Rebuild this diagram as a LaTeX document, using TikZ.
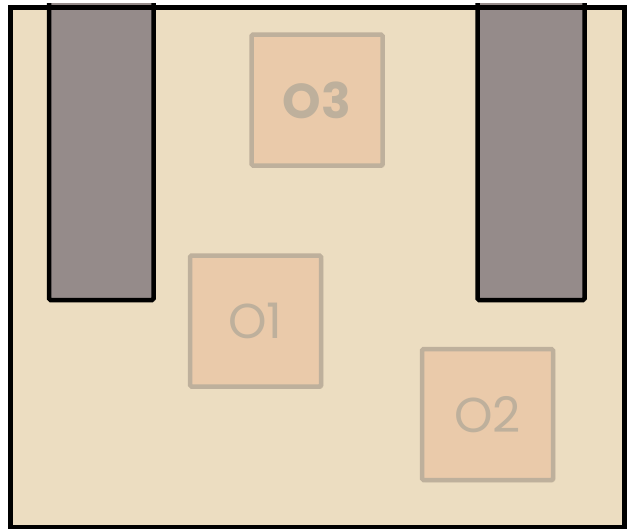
\documentclass[tikz,border=0pt]{standalone}
\usepackage{fontspec}
\setmainfont{Poppins}
\usetikzlibrary{shadows}
\definecolor{bgbeige}{HTML}{ECDDC1}
\definecolor{pillar}{HTML}{958B8A}
\definecolor{boxfill}{HTML}{EACAAA}
\definecolor{boxline}{HTML}{BEB09C}
\tikzset{
  obox/.style={draw=boxline, line width=4.5pt, fill=boxfill, rounded corners=1.5pt,
    minimum width=131pt, minimum height=131pt, inner sep=0pt, text=boxline,
    font=\fontsize{49}{49}\selectfont,
    drop shadow={shadow xshift=2pt, shadow yshift=-2pt, opacity=0.12, fill=black}},
  pillarbox/.style={draw=black, line width=4.5pt, fill=pillar, rounded corners=1.5pt,
    drop shadow={shadow xshift=2pt, shadow yshift=-2pt, opacity=0.12, fill=black}},
}
\begin{document}
\begin{tikzpicture}[x=1pt,y=1pt]
\useasboundingbox (0,0) rectangle (627,-528);
\fill[bgbeige] (7.5,-4.5) rectangle (622,-524.5);
\draw[pillarbox] (49,-3) -- (49,-300) -- (153.5,-300) -- (153.5,-3);
\draw[pillarbox] (477.5,-3) -- (477.5,-300) -- (584.5,-300) -- (584.5,-3);
\node[draw=black, line width=5pt, minimum width=614.5pt, minimum height=520pt, inner sep=0pt, anchor=north west] (outer) at (7.5,-4.5) {};
\node[obox, font=\fontsize{49}{49}\selectfont\bfseries] (o3) at (317,-100) {O3};
\node[obox] (o1) at (255.5,-321) {O1};
\node[obox] (o2) at (487.5,-414.5) {O2};
\end{tikzpicture}
\end{document}
